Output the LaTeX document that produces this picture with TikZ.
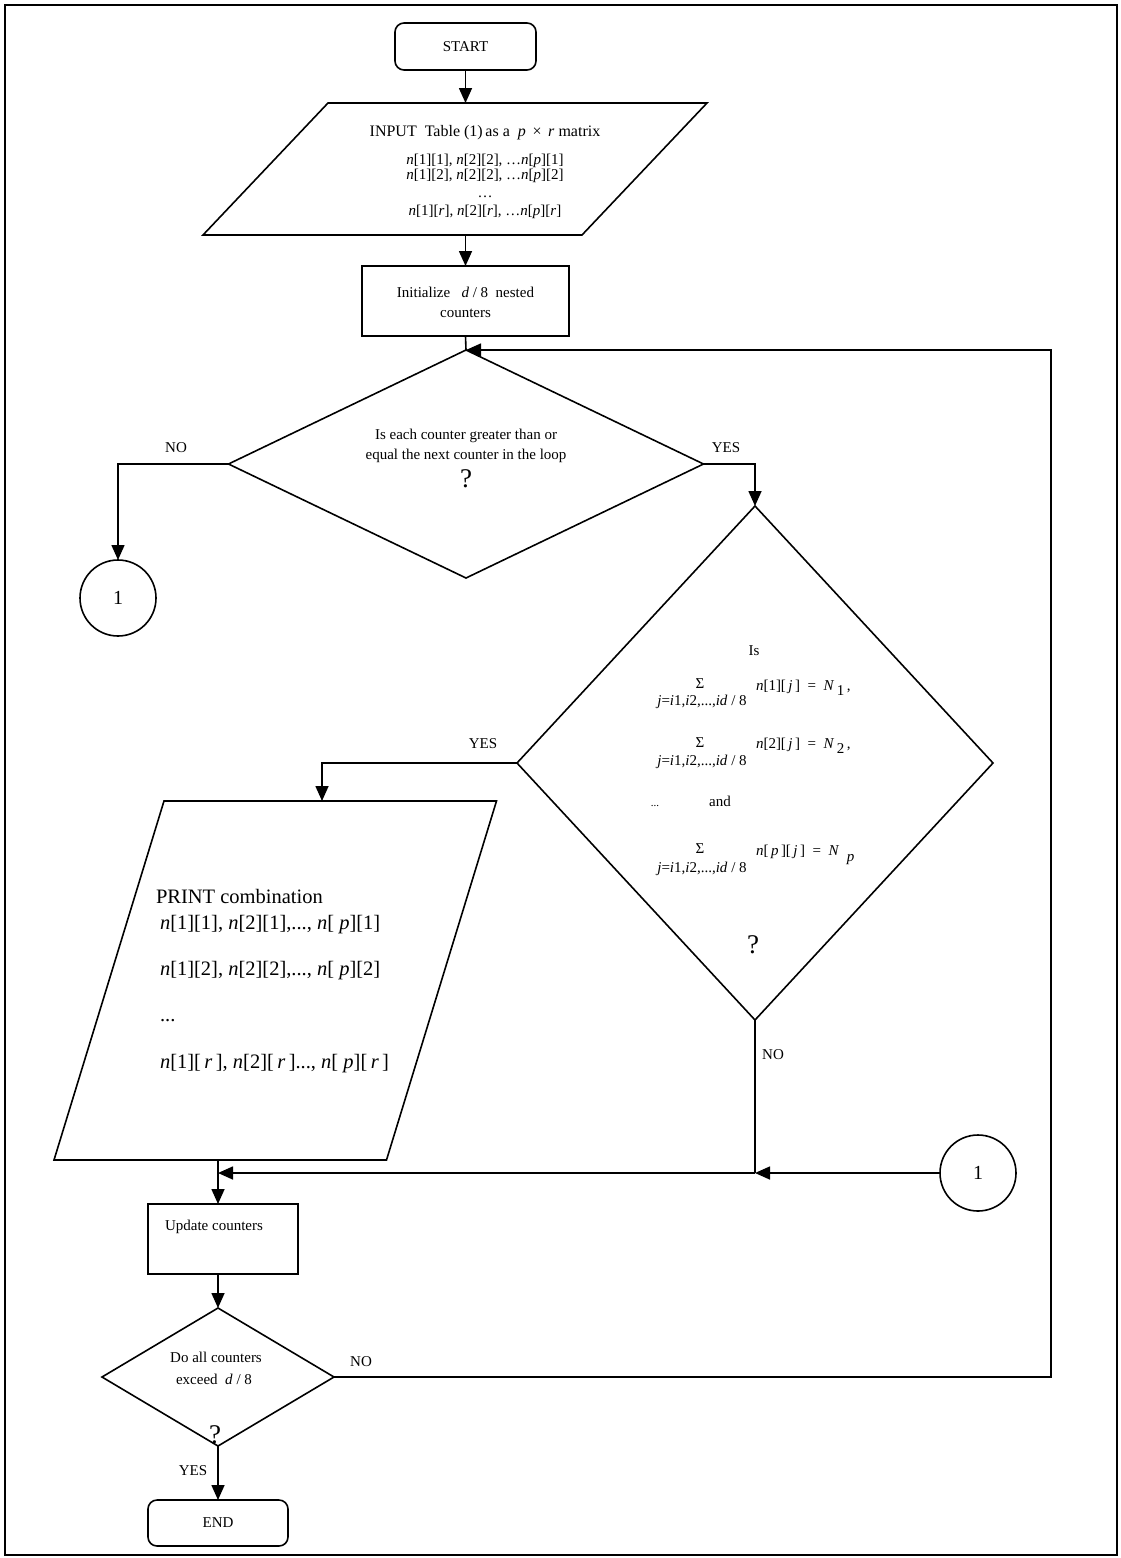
\documentclass[tikz,border=0pt]{standalone}
\usepackage{fontspec}
\setmainfont{Liberation Serif}
\usetikzlibrary{arrows.meta,shapes.geometric,calc}
\newcommand{\itx}[1]{\textit{#1}}
\begin{document}
\begin{tikzpicture}[x=1pt,y=-1pt,
  every node/.style={inner sep=0pt, outer sep=0pt, font=\fontsize{15}{18}\selectfont},
  ln/.style={line width=1.6pt},
  arr/.style={line width=1.6pt,-{Triangle[length=15pt,width=13pt]}},
  term/.style={draw,line width=1.6pt,rounded corners=9pt},
  procbox/.style={draw,line width=1.6pt},
  decide/.style={draw,line width=1.6pt,diamond},
  conn/.style={draw,line width=1.6pt,circle,minimum size=76pt,font=\fontsize{20}{22}\selectfont},
  qmark/.style={anchor=base,font=\fontsize{27}{30}\selectfont},
  big/.style={anchor=base west,font=\fontsize{20.5}{24}\selectfont},
  txt/.style={anchor=base}
]
\useasboundingbox (0,0) rectangle (1120,1558);
\draw[ln] (5,5) rectangle (1117,1555);

% START
\node[term, minimum width=141pt, minimum height=47pt] (start) at (465.5,46.5) {START};

% INPUT parallelogram
\node[minimum width=379pt, minimum height=132pt] (input) at (455,169) {};
\draw[ln] ($(input.south west)+(-62.5,0)$) -- ($(input.north west)+(62.5,0)$)
  -- ($(input.north east)+(62.5,0)$) -- ($(input.south east)+(-62.5,0)$) -- cycle;
\node[txt, font=\fontsize{16}{18}\selectfont] (in1) at (485,136) {INPUT\ \ Table (1)\,as a \ \itx{p} \,×\, \itx{r} matrix};
\node[txt] (in2) at (485,164) {\itx{n}[1][1], \itx{n}[2][2], …\itx{n}[\itx{p}][1]};
\node[txt] (in3) at (485,179) {\itx{n}[1][2], \itx{n}[2][2], …\itx{n}[\itx{p}][2]};
\node[txt] (in4) at (485,197) {…};
\node[txt] (in5) at (485,215) {\itx{n}[1][\itx{r}], \itx{n}[2][\itx{r}], …\itx{n}[\itx{p}][\itx{r}]};

% Initialize
\node[procbox, minimum width=207pt, minimum height=70pt] (init) at (465.5,301) {};
\node[txt] (init1) at (465.5,297) {Initialize\ \ \ \itx{d}\ / 8\ \ nested};
\node[txt] (init2) at (465.5,317) {counters};

% Decision 1
\node[decide, minimum width=475pt, minimum height=228pt] (d1) at (466,464) {};
\node[txt] (d1t1) at (466,439) {Is each counter greater than or};
\node[txt] (d1t2) at (466,459) {equal the next counter in the loop};
\node[qmark] (d1q) at (466,487) {?};
\node[txt] (no1) at (176,452) {NO};
\node[txt] (yes1) at (726,452) {YES};

% connector circle left
\node[conn] (c1) at (118,598) {1};

% Decision 2
\node[decide, minimum width=476pt, minimum height=514pt] (d2) at (755,763) {};
\node[txt] (d2is) at (754,655) {Is};
\node[txt] (s1sig) at (700,688) {Σ};
\node[txt] (s1sub) at (702,705) {\itx{j}=\itx{i}1,\itx{i}2,...,\itx{id} / 8};
\node[anchor=base west] (s1rhs) at (756,690) {\itx{n}[1][\,\itx{j}\,]\ \ =\ \ \itx{N}\,\raisebox{-5pt}{1}\,,};
\node[txt] (s2sig) at (700,747) {Σ};
\node[txt] (s2sub) at (702,765) {\itx{j}=\itx{i}1,\itx{i}2,...,\itx{id} / 8};
\node[anchor=base west] (s2rhs) at (756,748) {\itx{n}[2][\,\itx{j}\,]\ \ =\ \ \itx{N}\,\raisebox{-5pt}{2}\,,};
\node[txt, font=\fontsize{11}{13}\selectfont] (d2dots) at (655,806) {...};
\node[txt] (d2and) at (720,806) {and};
\node[txt] (s3sig) at (700,853) {Σ};
\node[txt] (s3sub) at (702,872) {\itx{j}=\itx{i}1,\itx{i}2,...,\itx{id} / 8};
\node[anchor=base west] (s3rhs) at (756,855) {\itx{n}[\,\itx{p}\,][\,\itx{j}\,]\ \ =\ \ \itx{N}\ \ \raisebox{-6pt}{\itx{p}}};
\node[qmark] (d2q) at (753,953) {?};
\node[txt] (yes2) at (483,748) {YES};
\node[txt] (no2) at (773,1059) {NO};

% PRINT parallelogram
\node[minimum width=332.5pt, minimum height=359pt] (print) at (275.25,980.5) {};
\draw[ln] ($(print.south west)+(-55,0)$) -- ($(print.north west)+(55,0)$)
  -- ($(print.north east)+(55,0)$) -- ($(print.south east)+(-55,0)$) -- cycle;
\node[big] (pr1) at (156,903) {PRINT combination};
\node[big] (pr2) at (160,929) {\itx{n}[1][1], \itx{n}[2][1],..., \itx{n}[ \itx{p}][1]};
\node[big] (pr3) at (160,975) {\itx{n}[1][2], \itx{n}[2][2],..., \itx{n}[ \itx{p}][2]};
\node[big] (pr4) at (160,1021) {...};
\node[big] (pr5) at (160,1068) {\itx{n}[1][\,\itx{r}\,], \itx{n}[2][\,\itx{r}\,]..., \itx{n}[ \itx{p}][\,\itx{r}\,]};

% connector circle right
\node[conn] (c2) at (978,1173) {1};

% Update
\node[procbox, minimum width=150pt, minimum height=70pt] (update) at (223,1239) {};
\node[txt] (updt) at (214,1230) {Update counters};

% Decision 3
\node[decide, minimum width=232pt, minimum height=138pt] (d3) at (218,1377) {};
\node[txt] (d3t1) at (216,1362) {Do all counters};
\node[txt] (d3t2) at (214,1384) {exceed\ \ \itx{d}\ / 8};
\node[qmark] (d3q) at (215,1443) {?};
\node[txt] (no3) at (361,1366) {NO};
\node[txt] (yes3) at (193,1475) {YES};

% END
\node[term, minimum width=140pt, minimum height=46pt] (end) at (218,1523) {END};

% helper coordinates
\coordinate (pbot) at (d3.north |- print.south);
\coordinate (j1) at (d2.south |- c2.west);
\coordinate (rx) at (1051,0);

% connectors
\draw[arr] (start.south) -- (start.south |- input.north);
\draw[arr] (input.south -| init.north) -- (init.north);
\draw[ln] (init.south) -- (d1.north);
\draw[arr] (d1.west) -| (c1.north);
\draw[arr] (d1.east) -| (d2.north);
\draw[arr] (d2.west) -| ($(print.north)+(46.75,0)$);
\draw[ln] (d2.south) -- (j1);
\draw[arr] (c2.west) -- (j1);
\draw[arr] (j1) -- (j1 -| pbot);
\draw[arr] (pbot) -- (pbot |- update.north);
\draw[arr] (pbot |- update.south) -- (d3.north);
\draw[arr] (d3.south) -- (end.north);
\draw[arr] (d3.east) -- (d3.east -| rx) |- (d1.north);
\end{tikzpicture}
\end{document}
